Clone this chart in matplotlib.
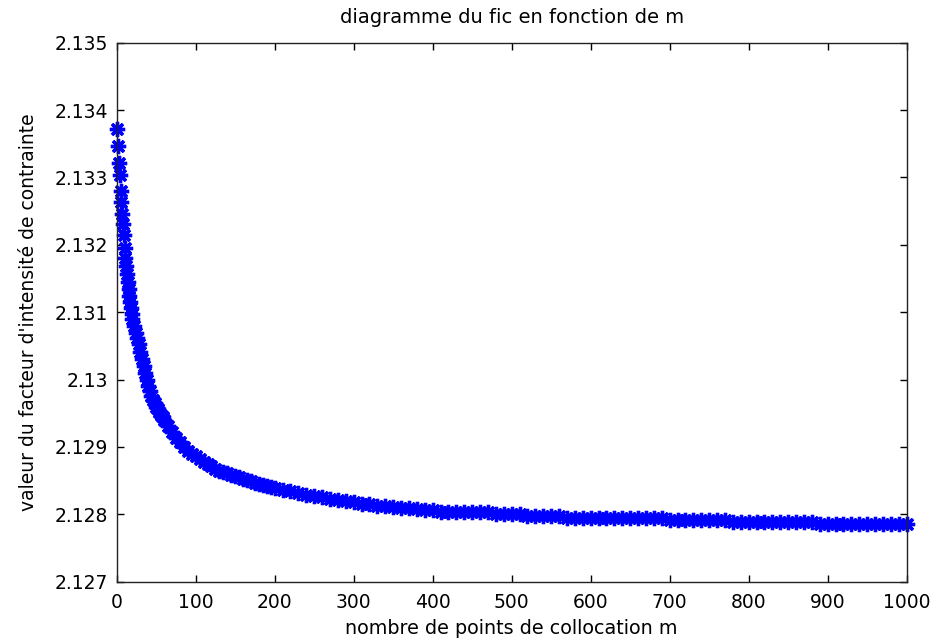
"""
Courbe du facteur d'intensite de contrainte en fonction du nombre
de points de collocation m (valeurs relevees sur la figure).
"""
import matplotlib
matplotlib.use('Agg')
import matplotlib.pyplot as plt

# nombre de points de collocation
m_vals = (list(range(1, 21)) + list(range(22, 61, 2))
          + list(range(65, 201, 5)) + list(range(210, 1001, 10)))

# facteur d'intensite de contrainte
fic_vals = [
    # m = 1 .. 20
    2.13372, 2.13347, 2.13322, 2.13303, 2.13280, 2.13263, 2.13246, 2.13231,
    2.13214, 2.13196, 2.13181, 2.13168, 2.13156, 2.13145, 2.13134, 2.13124,
    2.13115, 2.13106, 2.13098, 2.13090,
    # m = 22 .. 60
    2.13079, 2.13069, 2.13061, 2.13053, 2.13041, 2.13030, 2.13020, 2.13010,
    2.13000, 2.12991, 2.12983, 2.12976, 2.12970, 2.12965, 2.12960, 2.12956,
    2.12952, 2.12948, 2.12944, 2.12940,
    # m = 65 .. 200
    2.12931, 2.12922, 2.12914, 2.12907, 2.12900, 2.12894, 2.12889, 2.12886,
    2.12882, 2.12878, 2.12874, 2.12871, 2.12868, 2.12865, 2.12863, 2.12861,
    2.12859, 2.12857, 2.12855, 2.12853, 2.12851, 2.12849, 2.12847, 2.12845,
    2.12844, 2.12842, 2.12841, 2.12839,
    # m = 210 .. 400
    2.12836, 2.12834, 2.12831, 2.12829, 2.12827, 2.12825, 2.12823, 2.12821,
    2.12820, 2.12818, 2.12816, 2.12815, 2.12813, 2.12812, 2.12811, 2.12810,
    2.12809, 2.12808, 2.12807, 2.12807,
    # m = 410 .. 1000
    2.12804, 2.12804, 2.12804, 2.12804, 2.12804, 2.12804, 2.12804,
    2.12801, 2.12801, 2.12801, 2.12801,
    2.12798, 2.12798, 2.12798, 2.12798, 2.12798,
    2.12795, 2.12795, 2.12795, 2.12795, 2.12795, 2.12795, 2.12795,
    2.12795, 2.12795, 2.12795, 2.12795, 2.12795, 2.12795,
    2.12791, 2.12791, 2.12791, 2.12791, 2.12791, 2.12791, 2.12791, 2.12791,
    2.12788, 2.12788, 2.12788, 2.12788, 2.12788, 2.12788, 2.12788, 2.12788,
    2.12788, 2.12788, 2.12788,
    2.12785, 2.12785, 2.12785, 2.12785, 2.12785, 2.12785, 2.12785, 2.12785,
    2.12785, 2.12785, 2.12785, 2.12785,
]

x_ticks = [0, 100, 200, 300, 400, 500, 600, 700, 800, 900, 1000]
y_ticks = [2.127, 2.128, 2.129, 2.130, 2.131, 2.132, 2.133, 2.134, 2.135]
y_tick_labels = ['2.127', '2.128', '2.129', '2.13', '2.131', '2.132',
                 '2.133', '2.134', '2.135']

plt.rcParams['font.family'] = ['DejaVu Sans']

fig = plt.figure(figsize=(9.32, 6.41), dpi=100)
ax = fig.add_axes([0.1252, 0.0925, 0.8476, 0.8409])

# marqueur '*' facon matlab : asterisque a 8 branches, non coupe au bord
ax.plot(m_vals, fic_vals, linestyle='none', marker=(8, 2, 0),
        markersize=11, markeredgewidth=2.4, color='#0000ff', clip_on=False)

ax.set_xlim(0, 1000)
ax.set_ylim(2.127, 2.135)
ax.set_xticks(x_ticks)
ax.set_yticks(y_ticks)
ax.set_yticklabels(y_tick_labels)

# graduations vers l'interieur sur les quatre cotes
ax.tick_params(direction='in', length=5, width=1, top=True, right=True,
               labelsize=13.5, colors='black', pad=6)
ax.tick_params(axis='x', pad=8)
for side in ax.spines.values():
    side.set_linewidth(1)
    side.set_color('#222222')

ax.set_title('diagramme du fic en fonction de m', fontsize=14, pad=14)
ax.set_xlabel('nombre de points de collocation m', fontsize=13.8, labelpad=5)
ax.set_ylabel("valeur du facteur d'intensité de contrainte", fontsize=13.5,
              labelpad=12)

fig.savefig('out.png', dpi=100, facecolor='white')
